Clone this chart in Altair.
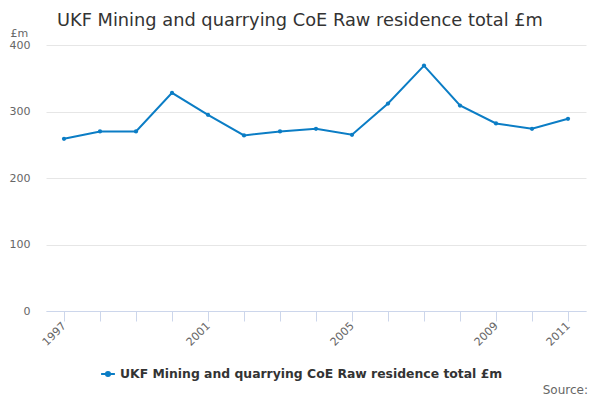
import altair as alt
import pandas as pd

years = ["1997", "1998", "1999", "2000", "2001", "2002", "2003", "2004",
         "2005", "2006", "2007", "2008", "2009", "2010", "2011"]
values = [259, 270, 270, 328, 295, 264, 270, 274, 265, 312, 369, 309, 282, 274, 289]
shown_year_labels = ["1997", "2001", "2005", "2009", "2011"]
y_ticks = [0, 100, 200, 300, 400]
series_name = "UKF Mining and quarrying CoE Raw residence total £m"
title_text = "UKF Mining and quarrying CoE Raw residence total £m"
source_text = "Source:"

df = pd.DataFrame({"year": years, "value": values, "series": series_name})

BLUE = "#0b7dc5"
label_list = "[" + ",".join("'" + y + "'" for y in shown_year_labels) + "]"

x_enc = alt.X(
    "year:O",
    scale=alt.Scale(type="point", padding=0.5),
    axis=alt.Axis(
        title=None,
        labelAngle=-45,
        labelAlign="right",
        labelBaseline="middle",
        labelExpr=f"indexof({label_list}, datum.label) >= 0 ? datum.label : ''",
        labelFont="DejaVu Sans",
        labelFontSize=11,
        labelColor="#666666",
        labelPadding=3,
        labelOverlap=False,
        domainColor="#ccd6eb",
        tickColor="#ccd6eb",
        tickSize=10,
        grid=False,
    ),
)
y_enc = alt.Y(
    "value:Q",
    scale=alt.Scale(domain=[0, 400], nice=False),
    axis=alt.Axis(
        values=y_ticks,
        title="£m",
        titleAngle=0,
        titleAlign="left",
        titleBaseline="alphabetic",
        titleX=-36,
        titleY=-9,
        titleFont="DejaVu Sans",
        titleFontSize=11,
        titleFontWeight="normal",
        titleColor="#666666",
        labelFont="DejaVu Sans",
        labelFontSize=11,
        labelColor="#666666",
        labelPadding=16,
        domain=False,
        ticks=False,
        gridColor="#e6e6e6",
    ),
)

line = alt.Chart(df).mark_line(
    strokeWidth=2,
    point=alt.OverlayMarkDef(filled=True, size=18),
).encode(
    x=x_enc,
    y=y_enc,
    color=alt.Color(
        "series:N",
        scale=alt.Scale(range=[BLUE]),
        legend=alt.Legend(
            title=None,
            orient="none",
            legendX=54,
            legendY=321,
            symbolType="M-1,0H1M-0.3,0A0.3,0.3 0 1,0 0.3,0A0.3,0.3 0 1,0 -0.3,0Z",
            symbolSize=190,
            symbolStrokeWidth=2,
            symbolFillColor=BLUE,
            labelFont="DejaVu Sans",
            labelFontSize=12.4,
            labelFontWeight="bold",
            labelColor="#333333",
            labelLimit=600,
        ),
    ),
)

source = alt.Chart(pd.DataFrame({"t": [source_text]})).mark_text(
    align="right", baseline="alphabetic", font="DejaVu Sans", fontSize=12, color="#666666"
).encode(text="t:N", x=alt.value(542), y=alt.value(349))

chart = alt.layer(line, source).properties(
    width=540,
    height=266,
    view=alt.ViewBackground(stroke=None, strokeWidth=0),
    title=alt.TitleParams(
        title_text,
        anchor="start",
        frame="group",
        dx=11,
        dy=17,
        offset=14,
        font="DejaVu Sans",
        fontSize=17.8,
        fontWeight="normal",
        color="#333333",
    ),
    autosize=alt.AutoSizeParams(type="none"),
    padding={"left": 38, "top": 37, "right": 6, "bottom": 89},
).configure(background="white").configure_view(strokeWidth=0, stroke=None)

chart.save("out.html", embed_options={"renderer": "svg", "actions": False})
